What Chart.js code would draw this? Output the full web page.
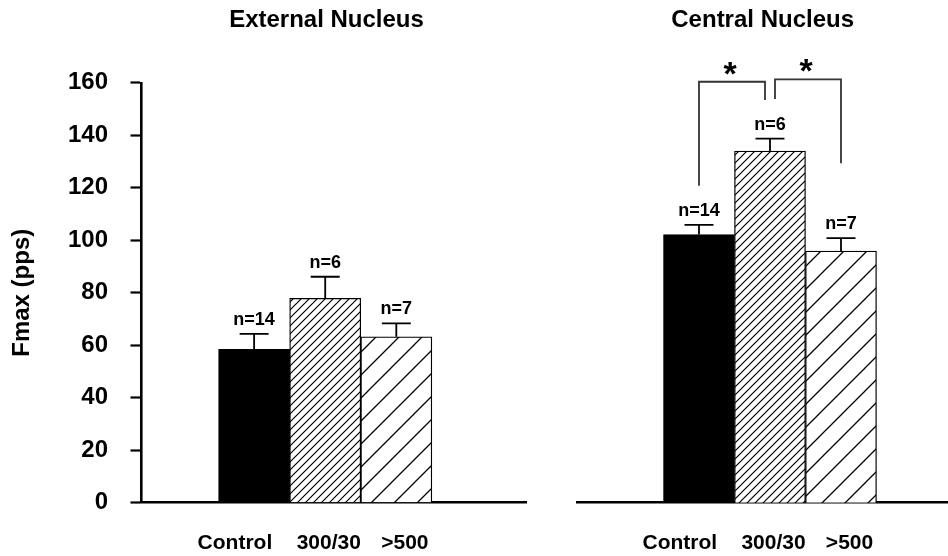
<!DOCTYPE html>
<html>
<head>
<meta charset="utf-8">
<title>Fmax by nucleus</title>
<script src="https://cdn.jsdelivr.net/npm/chart.js@4.4.1/dist/chart.umd.min.js"></script>
<style>
  html, body { margin: 0; padding: 0; background: #fff; }
  #wrap { position: relative; width: 948px; height: 556px; overflow: hidden; }
  canvas { position: absolute; top: 0; }
  #leftChart { left: 0; }
  #rightChart { left: 474px; }
</style>
</head>
<body>
<div id="wrap">
  <canvas id="leftChart" width="653" height="556"></canvas>
  <canvas id="rightChart" width="474" height="556"></canvas>
</div>
<script>
const groups = ["Control", "300/30", ">500"];
const yTicks = [0, 20, 40, 60, 80, 100, 120, 140, 160];

const externalMeans = [58.4, 77.9, 63.2];
const externalErrors = [5.9, 8.2, 5.1];
const externalN = [14, 6, 7];

const centralMeans = [102.2, 134.0, 95.9];
const centralErrors = [3.7, 4.7, 4.9];
const centralN = [14, 6, 7];

// significance brackets (central nucleus only)
const sigPairs = [[0, 1], [1, 2]];
const sigTops = [160.4, 161.3];
const sigLegEnds = [[120.8, 153.4], [153.8, 129.3]];
const sigMarks = ["*", "*"];

const FONT = "'Liberation Sans', Arial, Helvetica, sans-serif";
Chart.defaults.font.family = FONT;
Chart.defaults.font.weight = "bold";
Chart.defaults.color = "#000";

function hatch(step, lw) {
  const c = document.createElement("canvas");
  c.width = step;
  c.height = step;
  const g = c.getContext("2d");
  g.fillStyle = "#fff";
  g.fillRect(0, 0, step, step);
  g.strokeStyle = "#000";
  g.lineWidth = lw;
  g.beginPath();
  [0, step, 2 * step].forEach(k => {
    g.moveTo(k + 1, -1);
    g.lineTo(-1, k + 1);
  });
  g.stroke();
  return g.createPattern(c, "repeat");
}

const fills = ["#000", hatch(8, 1.2), hatch(23, 1.3)];

// labels under the bars sit a little off the bar centres in the original
const labelShift = [-0.27, 0.05, 0.12];

const errorBars = {
  id: "errorBars",
  afterDatasetsDraw(chart, args, opts) {
    const ctx = chart.ctx;
    const y = chart.scales.y;
    const meta = chart.getDatasetMeta(0);
    const data = chart.data.datasets[0].data;
    ctx.save();
    ctx.strokeStyle = "#000";
    ctx.lineWidth = 1.8;
    ctx.fillStyle = "#000";
    ctx.font = "bold 18px " + FONT;
    ctx.textAlign = "center";
    ctx.textBaseline = "alphabetic";
    meta.data.forEach((bar, i) => {
      const top = y.getPixelForValue(data[i].y + opts.errors[i]);
      ctx.beginPath();
      ctx.moveTo(bar.x, bar.y);
      ctx.lineTo(bar.x, top);
      ctx.moveTo(bar.x - 14.5, top);
      ctx.lineTo(bar.x + 14.5, top);
      ctx.stroke();
      ctx.fillText("n=" + opts.n[i], bar.x, top - 9);
    });
    ctx.restore();
  }
};

const sigBrackets = {
  id: "sigBrackets",
  afterDatasetsDraw(chart, args, opts) {
    if (!opts.pairs) return;
    const ctx = chart.ctx;
    const y = chart.scales.y;
    const bars = chart.getDatasetMeta(0).data;
    const gap = 5;
    ctx.save();
    ctx.strokeStyle = "#333";
    ctx.lineWidth = 1.8;
    ctx.fillStyle = "#000";
    ctx.font = "bold 34px " + FONT;
    ctx.textAlign = "center";
    ctx.textBaseline = "alphabetic";
    opts.pairs.forEach(([a, b], k) => {
      const xa = bars[a].x + (opts.pairs.some(p => p[1] === a) ? gap : 0);
      const xb = bars[b].x - (opts.pairs.some(p => p[0] === b) ? gap : 0);
      const yt = y.getPixelForValue(opts.tops[k]);
      ctx.beginPath();
      ctx.moveTo(xa, y.getPixelForValue(opts.ends[k][0]));
      ctx.lineTo(xa, yt);
      ctx.lineTo(xb, yt);
      ctx.lineTo(xb, y.getPixelForValue(opts.ends[k][1]));
      ctx.stroke();
      ctx.fillText(opts.marks[k], (xa + xb) / 2 - 2, yt + 3);
    });
    ctx.restore();
  }
};

function makePanel(id, title, means, errors, n, xMin, xMax, showY, extra) {
  const scales = {
    x: {
      type: "linear",
      offset: false,
      min: xMin,
      max: xMax,
      grid: { display: false, drawTicks: false, offset: false },
      border: { display: true, color: "#000", width: 2.6 },
      afterBuildTicks: s => { s.ticks = groups.map((g, i) => ({ value: i + labelShift[i] })); },
      afterFit: s => { s.height = 53.3; },
      ticks: {
        autoSkip: false,
        maxRotation: 0,
        padding: 28,
        font: { size: 21, weight: "bold" },
        callback: (v, i) => groups[i]
      }
    },
    y: {
      display: showY,
      min: 0,
      max: 160,
      afterBuildTicks: s => { s.ticks = yTicks.map(v => ({ value: v })); },
      afterFit: s => { s.width = showY ? 141.5 : 0; },
      grid: { drawOnChartArea: false, drawTicks: true, tickLength: 11, tickColor: "#000", tickWidth: 2.2 },
      border: { display: true, color: "#000", width: 2.6 },
      ticks: { padding: 22.5, font: { size: 24, weight: "bold" } },
      title: {
        display: true,
        text: "Fmax (pps)",
        font: { size: 24, weight: "bold" },
        padding: { top: 8, bottom: 0 }
      }
    }
  };
  if (extra.spacer) {
    // empty right-hand box so the title centres over the plot like the original
    scales.spacer = {
      type: "linear",
      position: "right",
      grid: { display: false },
      border: { display: false },
      ticks: { display: false },
      afterFit: s => { s.width = extra.spacer; }
    };
  }
  return new Chart(document.getElementById(id), {
    type: "bar",
    data: {
      datasets: [{
        xAxisID: "x",
        yAxisID: "y",
        data: means.map((v, i) => ({ x: i, y: v })),
        backgroundColor: fills,
        borderColor: "#000",
        borderWidth: 1.3,
        categoryPercentage: 1,
        barPercentage: 1
      }]
    },
    options: {
      responsive: false,
      animation: false,
      devicePixelRatio: 1,
      layout: { padding: { left: extra.padLeft || 0, right: 0, top: 0, bottom: 0 } },
      scales: scales,
      plugins: {
        legend: { display: false },
        tooltip: { enabled: false },
        title: {
          display: true,
          text: title,
          font: { size: 24, weight: "bold" },
          padding: { top: 6, bottom: 48 }
        },
        errorBars: { errors: errors, n: n },
        sigBrackets: extra.brackets || {}
      }
    },
    plugins: [errorBars, sigBrackets]
  });
}

makePanel("leftChart", "External Nucleus", externalMeans, externalErrors, externalN,
  -1.584, 3.824, true, { spacer: 127 });

makePanel("rightChart", "Central Nucleus", centralMeans, centralErrors, centralN,
  -1.714, 3.507, false, {
    padLeft: 103.3,
    brackets: { pairs: sigPairs, tops: sigTops, ends: sigLegEnds, marks: sigMarks }
  });
</script>
</body>
</html>
